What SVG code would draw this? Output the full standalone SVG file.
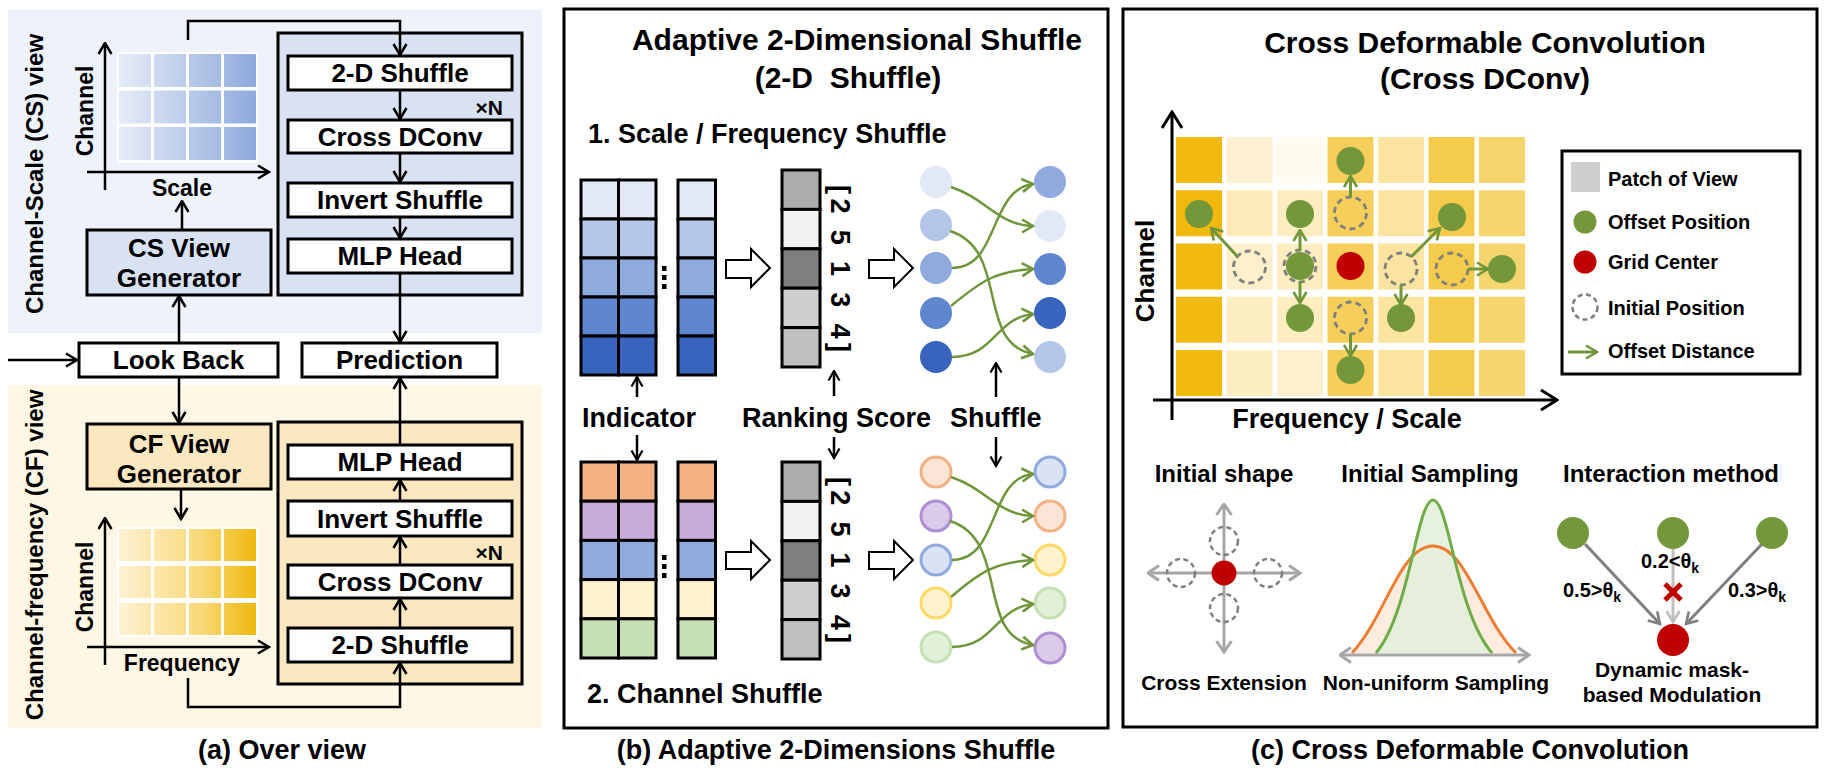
<svg xmlns="http://www.w3.org/2000/svg" width="1824" height="778" viewBox="0 0 1824 778">
<defs>
<style>
.t{font-family:"Liberation Sans",Arial,sans-serif;font-weight:700;fill:#000}
.c{text-anchor:middle}
.s26{font-size:26px}
.s27{font-size:27px}
.s30{font-size:30px}
.box{fill:#fff;stroke:#000;stroke-width:3}
.ln{fill:none;stroke:#000;stroke-width:2.5}
.gl{fill:none;stroke:#70963c;stroke-width:2.5}
.ga{fill:none;stroke:#70963c;stroke-width:3}
.cell{stroke:#000;stroke-width:3}
.dc{fill:none;stroke:#7f7f7f;stroke-width:2.8;stroke-dasharray:6 4}
.og{fill:#74973b}
.rd{fill:#c00000}
.hol{fill:#fff;stroke:#000;stroke-width:2}
</style>
<marker id="ma" viewBox="0 0 14 16" refX="12.5" refY="8" markerWidth="14" markerHeight="16" markerUnits="userSpaceOnUse" orient="auto"><path d="M1.5,1.5 L12.5,8 L1.5,14.5" fill="none" stroke="#000" stroke-width="2.5"/></marker>
<marker id="ms" viewBox="0 0 12 14" refX="10.5" refY="7" markerWidth="12" markerHeight="14" markerUnits="userSpaceOnUse" orient="auto"><path d="M1,1.5 L10.5,7 L1,12.5" fill="none" stroke="#000" stroke-width="2.2"/></marker>
<marker id="mx" viewBox="0 0 20 24" refX="18" refY="12" markerWidth="20" markerHeight="24" markerUnits="userSpaceOnUse" orient="auto"><path d="M2,2 L18,12 L2,22" fill="none" stroke="#000" stroke-width="3"/></marker>
<marker id="mg" viewBox="0 0 14 16" refX="12.5" refY="8" markerWidth="14" markerHeight="16" markerUnits="userSpaceOnUse" orient="auto"><path d="M1.5,1.5 L12.5,8 L1.5,14.5" fill="none" stroke="#70963c" stroke-width="2.6"/></marker>
<marker id="mgr" viewBox="0 0 14 18" refX="12.5" refY="9" markerWidth="14" markerHeight="18" markerUnits="userSpaceOnUse" orient="auto-start-reverse"><path d="M1.5,1.5 L12.5,9 L1.5,16.5" fill="none" stroke="#a6a6a6" stroke-width="3"/></marker>
<marker id="mdk" viewBox="0 0 14 16" refX="12.5" refY="8" markerWidth="14" markerHeight="16" markerUnits="userSpaceOnUse" orient="auto"><path d="M1.5,1.5 L12.5,8 L1.5,14.5" fill="none" stroke="#7f7f7f" stroke-width="2.6"/></marker>
<marker id="mlt" viewBox="0 0 14 16" refX="12.5" refY="8" markerWidth="14" markerHeight="16" markerUnits="userSpaceOnUse" orient="auto"><path d="M1.5,1.5 L12.5,8 L1.5,14.5" fill="none" stroke="#bfbfbf" stroke-width="2.6"/></marker>
<linearGradient id="gcs" gradientUnits="userSpaceOnUse" x1="119" y1="0" x2="256" y2="0"><stop offset="0" stop-color="#e6ecf7"/><stop offset="1" stop-color="#8eaadc"/></linearGradient>
<linearGradient id="gcf" gradientUnits="userSpaceOnUse" x1="119" y1="0" x2="256" y2="0"><stop offset="0" stop-color="#fef2d3"/><stop offset="0.6" stop-color="#f8d978"/><stop offset="1" stop-color="#efb80d"/></linearGradient>
</defs>
<rect width="1824" height="778" fill="#fff"/>

<!-- ================= Panel (a) ================= -->
<g id="panel-a">
<rect x="8" y="10" width="534" height="323" fill="#eef2fb"/>
<rect x="8" y="385" width="534" height="343" fill="#fef7e5"/>
<text class="t" font-size="24" text-anchor="middle" transform="translate(43,174) rotate(-90)">Channel-Scale (CS) view</text>
<text class="t" font-size="24" text-anchor="middle" transform="translate(43,555) rotate(-90)">Channel-frequency (CF) view</text>
<text class="t c s27" x="282" y="759">(a) Over view</text>
</g>

<g id="cs-grid">
<rect x="117" y="52" width="141" height="111" fill="#fff"/>
<g fill="url(#gcs)">
<rect x="119" y="54" width="32" height="33"/><rect x="154" y="54" width="32" height="33"/><rect x="189" y="54" width="32" height="33"/><rect x="224" y="54" width="32" height="33"/>
<rect x="119" y="90.5" width="32" height="33"/><rect x="154" y="90.5" width="32" height="33"/><rect x="189" y="90.5" width="32" height="33"/><rect x="224" y="90.5" width="32" height="33"/>
<rect x="119" y="127" width="32" height="33"/><rect x="154" y="127" width="32" height="33"/><rect x="189" y="127" width="32" height="33"/><rect x="224" y="127" width="32" height="33"/>
</g>
<path class="ln" d="M105,190 V43" marker-end="url(#ma)"/>
<path class="ln" d="M87,172 H269" marker-end="url(#ma)"/>
<text class="t" font-size="23" text-anchor="middle" transform="translate(93,111) rotate(-90)">Channel</text>
<text class="t c" font-size="23" x="182" y="196">Scale</text>
</g>

<g id="cf-grid">
<rect x="117" y="527" width="141" height="110" fill="#fff"/>
<g fill="url(#gcf)">
<rect x="119" y="529" width="32" height="32"/><rect x="154" y="529" width="32" height="32"/><rect x="189" y="529" width="32" height="32"/><rect x="224" y="529" width="32" height="32"/>
<rect x="119" y="566" width="32" height="32"/><rect x="154" y="566" width="32" height="32"/><rect x="189" y="566" width="32" height="32"/><rect x="224" y="566" width="32" height="32"/>
<rect x="119" y="603" width="32" height="32"/><rect x="154" y="603" width="32" height="32"/><rect x="189" y="603" width="32" height="32"/><rect x="224" y="603" width="32" height="32"/>
</g>
<path class="ln" d="M105,665 V518" marker-end="url(#ma)"/>
<path class="ln" d="M87,647 H269" marker-end="url(#ma)"/>
<text class="t" font-size="23" text-anchor="middle" transform="translate(93,587) rotate(-90)">Channel</text>
<text class="t c" font-size="23" x="182" y="671">Frequency</text>
</g>

<g id="cs-block">
<rect x="278" y="33" width="244" height="262" fill="#d9e2f3" stroke="#000" stroke-width="3"/>
<text class="t" font-size="21" text-anchor="end" x="503" y="115">×N</text>
</g>
<g id="cs-2dshuffle"><rect class="box" x="288" y="56" width="224" height="34"/><text class="t c s26" x="400" y="82">2-D Shuffle</text></g>
<g id="cs-crossdconv"><rect class="box" x="288" y="120" width="224" height="33"/><text class="t c s26" x="400" y="146">Cross DConv</text></g>
<g id="cs-invert"><rect class="box" x="288" y="183" width="224" height="34"/><text class="t c s26" x="400" y="209">Invert Shuffle</text></g>
<g id="cs-mlp"><rect class="box" x="288" y="239" width="224" height="34"/><text class="t c s26" x="400" y="265">MLP Head</text></g>

<g id="cf-block">
<rect x="278" y="422" width="244" height="262" fill="#fbe8c1" stroke="#000" stroke-width="3"/>
<text class="t" font-size="21" text-anchor="end" x="503" y="560">×N</text>
</g>
<g id="cf-mlp"><rect class="box" x="288" y="445" width="224" height="34"/><text class="t c s26" x="400" y="471">MLP Head</text></g>
<g id="cf-invert"><rect class="box" x="288" y="501" width="224" height="35"/><text class="t c s26" x="400" y="528">Invert Shuffle</text></g>
<g id="cf-crossdconv"><rect class="box" x="288" y="565" width="224" height="33"/><text class="t c s26" x="400" y="591">Cross DConv</text></g>
<g id="cf-2dshuffle"><rect class="box" x="288" y="628" width="224" height="34"/><text class="t c s26" x="400" y="654">2-D Shuffle</text></g>

<g id="cs-generator"><rect x="87" y="230" width="184" height="65" fill="#d9e2f3" stroke="#000" stroke-width="3"/><text class="t c s26" x="179" y="257">CS View</text><text class="t c s26" x="179" y="287">Generator</text></g>
<g id="cf-generator"><rect x="87" y="424" width="184" height="65" fill="#fbe8c1" stroke="#000" stroke-width="3"/><text class="t c s26" x="179" y="453">CF View</text><text class="t c s26" x="179" y="483">Generator</text></g>
<g id="look-back"><rect class="box" x="79" y="343" width="199" height="34"/><text class="t c s26" x="178.5" y="369">Look Back</text></g>
<g id="prediction"><rect class="box" x="302" y="343" width="195" height="34"/><text class="t c s26" x="399.5" y="369">Prediction</text></g>

<g id="connectors-a" class="ln">
<path d="M188,40 V21 H400 V55" marker-end="url(#ma)"/>
<path d="M400,90 V119" marker-end="url(#ma)"/>
<path d="M400,153 V182" marker-end="url(#ma)"/>
<path d="M400,217 V238" marker-end="url(#ma)"/>
<path d="M400,273 V342" marker-end="url(#ma)"/>
<path d="M8,360 H77" marker-end="url(#ma)"/>
<path d="M179,343 V296" marker-end="url(#ma)"/>
<path d="M182,230 V201" marker-end="url(#ma)"/>
<path d="M179,377 V423" marker-end="url(#ma)"/>
<path d="M181,489 V519" marker-end="url(#ma)"/>
<path d="M400,445 V378" marker-end="url(#ma)"/>
<path d="M400,501 V480" marker-end="url(#ma)"/>
<path d="M400,565 V537" marker-end="url(#ma)"/>
<path d="M400,628 V599" marker-end="url(#ma)"/>
<path d="M188,678 V707 H400 V663" marker-end="url(#ma)"/>
</g>

<!-- ================= Panel (b) ================= -->
<g id="panel-b">
<rect x="564" y="9" width="544" height="719" fill="none" stroke="#000" stroke-width="3"/>
<text class="t c s30" x="857" y="50">Adaptive 2-Dimensional Shuffle</text>
<text class="t c s30" x="848" y="88" style="white-space:pre">(2-D  Shuffle)</text>
<text class="t s27" x="588" y="143">1. Scale / Frequency Shuffle</text>
<text class="t s27" x="587" y="703">2. Channel Shuffle</text>
<text class="t c s27" x="836" y="759">(b) Adaptive 2-Dimensions Shuffle</text>
</g>

<g id="sf-indicator">
<g class="cell">
<rect x="581" y="180" width="37.5" height="39" fill="#e3e9f6"/><rect x="618.5" y="180" width="37.5" height="39" fill="#e3e9f6"/><rect x="678" y="180" width="37.5" height="39" fill="#e3e9f6"/>
<rect x="581" y="219" width="37.5" height="39" fill="#b4c6e7"/><rect x="618.5" y="219" width="37.5" height="39" fill="#b4c6e7"/><rect x="678" y="219" width="37.5" height="39" fill="#b4c6e7"/>
<rect x="581" y="258" width="37.5" height="39" fill="#8faadc"/><rect x="618.5" y="258" width="37.5" height="39" fill="#8faadc"/><rect x="678" y="258" width="37.5" height="39" fill="#8faadc"/>
<rect x="581" y="297" width="37.5" height="39" fill="#5e87cf"/><rect x="618.5" y="297" width="37.5" height="39" fill="#5e87cf"/><rect x="678" y="297" width="37.5" height="39" fill="#5e87cf"/>
<rect x="581" y="336" width="37.5" height="39" fill="#3864be"/><rect x="618.5" y="336" width="37.5" height="39" fill="#3864be"/><rect x="678" y="336" width="37.5" height="39" fill="#3864be"/>
</g>
<rect x="662" y="266" width="4.5" height="5"/><rect x="662" y="275" width="4.5" height="5"/><rect x="662" y="284" width="4.5" height="5"/>
</g>

<g id="ch-indicator">
<g class="cell">
<rect x="581" y="462" width="37.5" height="39.2" fill="#f4b183"/><rect x="618.5" y="462" width="37.5" height="39.2" fill="#f4b183"/><rect x="678" y="462" width="37.5" height="39.2" fill="#f4b183"/>
<rect x="581" y="501.2" width="37.5" height="39.2" fill="#c9abd8"/><rect x="618.5" y="501.2" width="37.5" height="39.2" fill="#c9abd8"/><rect x="678" y="501.2" width="37.5" height="39.2" fill="#c9abd8"/>
<rect x="581" y="540.4" width="37.5" height="39.2" fill="#8faadc"/><rect x="618.5" y="540.4" width="37.5" height="39.2" fill="#8faadc"/><rect x="678" y="540.4" width="37.5" height="39.2" fill="#8faadc"/>
<rect x="581" y="579.6" width="37.5" height="39.2" fill="#fff2cc"/><rect x="618.5" y="579.6" width="37.5" height="39.2" fill="#fff2cc"/><rect x="678" y="579.6" width="37.5" height="39.2" fill="#fff2cc"/>
<rect x="581" y="618.8" width="37.5" height="39.2" fill="#c6e0b4"/><rect x="618.5" y="618.8" width="37.5" height="39.2" fill="#c6e0b4"/><rect x="678" y="618.8" width="37.5" height="39.2" fill="#c6e0b4"/>
</g>
<rect x="662" y="555" width="4.5" height="5"/><rect x="662" y="564" width="4.5" height="5"/><rect x="662" y="573" width="4.5" height="5"/>
</g>

<g id="sf-score">
<g class="cell">
<rect x="782" y="170" width="38" height="39.4" fill="#aeabab"/>
<rect x="782" y="209.4" width="38" height="39.4" fill="#f2f2f2"/>
<rect x="782" y="248.8" width="38" height="39.4" fill="#7f7f7f"/>
<rect x="782" y="288.2" width="38" height="39.4" fill="#d0cece"/>
<rect x="782" y="327.6" width="38" height="39.4" fill="#bfbfbf"/>
</g>
<text class="t s27" transform="translate(831,185) rotate(90)" textLength="167" lengthAdjust="spacing">[2 5 1 3 4]</text>
</g>
<g id="ch-score">
<g class="cell">
<rect x="782" y="462" width="38" height="39.4" fill="#aeabab"/>
<rect x="782" y="501.4" width="38" height="39.4" fill="#f2f2f2"/>
<rect x="782" y="540.8" width="38" height="39.4" fill="#7f7f7f"/>
<rect x="782" y="580.2" width="38" height="39.4" fill="#d0cece"/>
<rect x="782" y="619.6" width="38" height="39.4" fill="#bfbfbf"/>
</g>
<text class="t s27" transform="translate(831,477) rotate(90)" textLength="166" lengthAdjust="spacing">[2 5 1 3 4]</text>
</g>

<g id="hollow-arrows">
<path class="hol" d="M726,260 H751 V249 L770,268 L751,287 V278 H726 Z"/>
<path class="hol" d="M869,260 H894 V249 L913,268 L894,287 V278 H869 Z"/>
<path class="hol" d="M726,552 H751 V541 L770,560 L751,579 V569 H726 Z"/>
<path class="hol" d="M869,552 H894 V541 L913,560 L894,579 V569 H869 Z"/>
</g>

<g id="sf-circles">
<circle cx="936" cy="182" r="16" fill="#e2e9f6"/>
<circle cx="936" cy="225" r="16" fill="#b4c6e7"/>
<circle cx="936" cy="268" r="16" fill="#8faadc"/>
<circle cx="936" cy="313" r="16" fill="#5e87cf"/>
<circle cx="936" cy="357" r="16" fill="#3864be"/>
<circle cx="1050" cy="182" r="16" fill="#8faadc"/>
<circle cx="1050" cy="226" r="16" fill="#e2e9f6"/>
<circle cx="1050" cy="269" r="16" fill="#5e87cf"/>
<circle cx="1050" cy="313" r="16" fill="#3864be"/>
<circle cx="1050" cy="357" r="16" fill="#b4c6e7"/>
</g>
<g id="ch-circles" stroke-width="3">
<circle cx="936" cy="472" r="15" fill="#fbe5d6" stroke="#f4b183"/>
<circle cx="936" cy="516" r="15" fill="#dccaea" stroke="#ae8fcf"/>
<circle cx="936" cy="560" r="15" fill="#dae3f3" stroke="#8faadc"/>
<circle cx="936" cy="603" r="15" fill="#fff2cc" stroke="#ffd966"/>
<circle cx="936" cy="647" r="15" fill="#e2f0d9" stroke="#c5e0b4"/>
<circle cx="1050" cy="472" r="15" fill="#dae3f3" stroke="#8faadc"/>
<circle cx="1050" cy="516" r="15" fill="#fbe5d6" stroke="#f4b183"/>
<circle cx="1050" cy="560" r="15" fill="#fff2cc" stroke="#ffd966"/>
<circle cx="1050" cy="603" r="15" fill="#e2f0d9" stroke="#c5e0b4"/>
<circle cx="1050" cy="648" r="15" fill="#dccaea" stroke="#ae8fcf"/>
</g>
<g id="labels-b">
<text class="t s27" x="582" y="427">Indicator</text>
<text class="t s27" x="742" y="427">Ranking Score</text>
<text class="t s27" x="950" y="427">Shuffle</text>
</g>

<g id="connectors-b">
<g class="ln" stroke-width="2.2">
<path d="M637,397 V377" marker-end="url(#ms)"/>
<path d="M637,435 V460" marker-end="url(#ms)"/>
<path d="M834,396 V371" marker-end="url(#ms)"/>
<path d="M834,437 V458" marker-end="url(#ms)"/>
<path d="M996,397 V363" marker-end="url(#ms)"/>
<path d="M996,437 V466" marker-end="url(#ms)"/>
</g>
<g class="gl">
<path d="M951,187 C985,198 1000,226 1033,226" marker-end="url(#mg)"/>
<path d="M950,231 C1010,250 975,343 1033,354" marker-end="url(#mg)"/>
<path d="M952,268 C1000,268 988,190 1033,184" marker-end="url(#mg)"/>
<path d="M951,306 C980,282 995,271 1033,269" marker-end="url(#mg)"/>
<path d="M952,357 C995,357 995,318 1033,314" marker-end="url(#mg)"/>
<path d="M951,477 C985,488 1000,516 1033,516" marker-end="url(#mg)"/>
<path d="M950,521 C1010,540 975,635 1033,645" marker-end="url(#mg)"/>
<path d="M952,560 C1000,560 988,478 1033,474" marker-end="url(#mg)"/>
<path d="M951,597 C980,572 995,562 1033,560" marker-end="url(#mg)"/>
<path d="M952,647 C995,647 995,608 1033,604" marker-end="url(#mg)"/>
</g>
</g>

<!-- ================= Panel (c) ================= -->
<g id="panel-c">
<rect x="1123" y="9" width="694" height="718" fill="none" stroke="#000" stroke-width="3"/>
<text class="t c s30" x="1485" y="53">Cross Deformable Convolution</text>
<text class="t c s30" x="1485" y="89">(Cross DConv)</text>
<text class="t c s27" x="1470" y="759">(c) Cross Deformable Convolution</text>
</g>

<g id="patch-grid">
<g fill="#f1b80e"><rect x="1176" y="137" width="46" height="46"/><rect x="1176" y="190.25" width="46" height="46"/><rect x="1176" y="243.5" width="46" height="46"/><rect x="1176" y="296.75" width="46" height="46"/><rect x="1176" y="350" width="46" height="46"/></g>
<rect x="1226.5" y="137" width="46" height="46" fill="#fdf0d0"/><rect x="1226.5" y="190.25" width="46" height="46" fill="#fcebb8"/><rect x="1226.5" y="243.5" width="46" height="46" fill="#fdefcb"/><rect x="1226.5" y="296.75" width="46" height="46" fill="#fdedc3"/><rect x="1226.5" y="350" width="46" height="46" fill="#fdedc3"/>
<rect x="1277" y="137" width="46" height="46" fill="#fffaee"/><rect x="1277" y="190.25" width="46" height="46" fill="#fdedc1"/><rect x="1277" y="243.5" width="46" height="46" fill="#fdedc1"/><rect x="1277" y="296.75" width="46" height="46" fill="#fdedc1"/><rect x="1277" y="350" width="46" height="46" fill="#fdf0cf"/>
<g fill="#f6cf5a"><rect x="1327.5" y="137" width="46" height="46"/><rect x="1327.5" y="190.25" width="46" height="46"/><rect x="1327.5" y="243.5" width="46" height="46"/><rect x="1327.5" y="296.75" width="46" height="46"/><rect x="1327.5" y="350" width="46" height="46"/></g>
<g fill="#fae4a0"><rect x="1378" y="137" width="46" height="46"/><rect x="1378" y="190.25" width="46" height="46"/><rect x="1378" y="243.5" width="46" height="46"/><rect x="1378" y="296.75" width="46" height="46"/><rect x="1378" y="350" width="46" height="46"/></g>
<g fill="#f5cb4b"><rect x="1428.5" y="137" width="46" height="46"/><rect x="1428.5" y="190.25" width="46" height="46"/><rect x="1428.5" y="243.5" width="46" height="46"/><rect x="1428.5" y="296.75" width="46" height="46"/><rect x="1428.5" y="350" width="46" height="46"/></g>
<g fill="#f7d56e"><rect x="1479" y="137" width="46" height="46"/><rect x="1479" y="190.25" width="46" height="46"/><rect x="1479" y="243.5" width="46" height="46"/><rect x="1479" y="296.75" width="46" height="46"/><rect x="1479" y="350" width="46" height="46"/></g>
</g>

<g id="grid-axes">
<path d="M1172,420 V112" fill="none" stroke="#000" stroke-width="3" marker-end="url(#mx)"/>
<path d="M1153,400 H1557" fill="none" stroke="#000" stroke-width="3" marker-end="url(#mx)"/>
<text class="t" font-size="26" text-anchor="middle" transform="translate(1154,271) rotate(-90)">Channel</text>
<text class="t c s27" x="1347" y="428">Frequency / Scale</text>
</g>

<g id="sampling-points">
<circle class="dc" cx="1249.5" cy="267" r="16"/>
<circle class="og" cx="1199" cy="214" r="14"/>
<circle class="og" cx="1300" cy="214" r="14"/>
<circle class="og" cx="1300" cy="266" r="14"/>
<circle class="dc" cx="1300" cy="266" r="16"/>
<circle class="og" cx="1300" cy="318" r="14"/>
<circle class="og" cx="1350.5" cy="161" r="14"/>
<circle class="dc" cx="1350.5" cy="213" r="16"/>
<circle class="rd" cx="1350.5" cy="266" r="14"/>
<circle class="dc" cx="1350.5" cy="318" r="16"/>
<circle class="og" cx="1350.5" cy="370" r="14"/>
<circle class="dc" cx="1401" cy="269" r="16"/>
<circle class="og" cx="1401" cy="318" r="14"/>
<circle class="og" cx="1452" cy="217" r="14"/>
<circle class="dc" cx="1452" cy="269" r="16"/>
<circle class="og" cx="1502" cy="269" r="14"/>
</g>
<g id="offset-arrows" class="ga">
<path d="M1238,257 L1211,228" marker-end="url(#mg)"/>
<path d="M1300,251 V230" marker-end="url(#mg)"/>
<path d="M1300,281 V303" marker-end="url(#mg)"/>
<path d="M1350.5,197 V176" marker-end="url(#mg)"/>
<path d="M1350.5,334 V356" marker-end="url(#mg)"/>
<path d="M1401,285 V305" marker-end="url(#mg)"/>
<path d="M1411,257 L1440,228" marker-end="url(#mg)"/>
<path d="M1468,269 H1488" marker-end="url(#mg)"/>
</g>

<g id="legend">
<rect x="1562" y="151" width="238" height="223" fill="#fff" stroke="#000" stroke-width="3"/>
<rect x="1571" y="162" width="29" height="30" fill="#d0cece"/>
<circle class="og" cx="1585" cy="222" r="11.5"/>
<circle class="rd" cx="1585" cy="262" r="11.5"/>
<circle cx="1585" cy="307" r="12.5" fill="none" stroke="#7f7f7f" stroke-width="2.5" stroke-dasharray="5 3.5"/>
<path class="ga" d="M1568,352 H1597" marker-end="url(#mg)"/>
<text class="t" font-size="20" x="1608" y="186">Patch of View</text>
<text class="t" font-size="20" x="1608" y="229">Offset Position</text>
<text class="t" font-size="20" x="1608" y="269">Grid Center</text>
<text class="t" font-size="20" x="1608" y="315">Initial Position</text>
<text class="t" font-size="20" x="1608" y="358">Offset Distance</text>
</g>

<g id="initial-shape">
<text class="t c" font-size="24" x="1224" y="482">Initial shape</text>
<g fill="none" stroke="#a6a6a6" stroke-width="3">
<path d="M1224,573 H1148" marker-end="url(#mgr)"/>
<path d="M1224,573 H1300" marker-end="url(#mgr)"/>
<path d="M1224,573 V504" marker-end="url(#mgr)"/>
<path d="M1224,573 V652" marker-end="url(#mgr)"/>
</g>
<g fill="none" stroke="#7f7f7f" stroke-width="2.5" stroke-dasharray="5 3.5">
<circle cx="1224" cy="541" r="14"/>
<circle cx="1224" cy="608" r="14"/>
<circle cx="1181" cy="573" r="14"/>
<circle cx="1268" cy="573" r="14"/>
</g>
<circle class="rd" cx="1224" cy="573" r="12.5"/>
<text class="t c" font-size="21" x="1224" y="690">Cross Extension</text>
</g>

<g id="initial-sampling">
<text class="t c" font-size="24" x="1430" y="482">Initial Sampling</text>
<path d="M1352,653 C1385,618 1400,546 1433,546 C1466,546 1481,618 1516,653 Z" fill="#fbe5d6" fill-opacity="0.75"/>
<path d="M1376,653 C1410,612 1417,500 1433,500 C1449,500 1456,612 1492,653 Z" fill="#e2efda" fill-opacity="0.85"/>
<path d="M1352,653 C1385,618 1400,546 1433,546 C1466,546 1481,618 1516,653" fill="none" stroke="#ed7d31" stroke-width="3"/>
<path d="M1376,653 C1410,612 1417,500 1433,500 C1449,500 1456,612 1492,653" fill="none" stroke="#70ad47" stroke-width="3"/>
<path d="M1340,655 H1529" fill="none" stroke="#a6a6a6" stroke-width="3" marker-start="url(#mgr)" marker-end="url(#mgr)"/>
<text class="t c" font-size="21" x="1436" y="690">Non-uniform Sampling</text>
</g>

<g id="interaction">
<text class="t c" font-size="24" x="1671" y="482">Interaction method</text>
<path d="M1585,544 L1660,624" fill="none" stroke="#7f7f7f" stroke-width="3" marker-end="url(#mdk)"/>
<path d="M1762,544 L1686,624" fill="none" stroke="#7f7f7f" stroke-width="3" marker-end="url(#mdk)"/>
<path d="M1673,549 V622" fill="none" stroke="#bfbfbf" stroke-width="3" marker-end="url(#mlt)"/>
<circle class="og" cx="1573" cy="533" r="16"/>
<circle class="og" cx="1673" cy="533" r="16"/>
<circle class="og" cx="1772" cy="533" r="16"/>
<circle class="rd" cx="1673" cy="640" r="16"/>
<path d="M1665,584 L1681,600 M1681,584 L1665,600" stroke="#c00000" stroke-width="5" fill="none"/>
<text class="t" font-size="20" x="1641" y="568">0.2&lt;θ<tspan font-size="14" dy="5">k</tspan></text>
<text class="t" font-size="20" x="1563" y="597">0.5&gt;θ<tspan font-size="14" dy="5">k</tspan></text>
<text class="t" font-size="20" x="1728" y="597">0.3&gt;θ<tspan font-size="14" dy="5">k</tspan></text>
<text class="t c" font-size="21" x="1672" y="677">Dynamic mask-</text>
<text class="t c" font-size="21" x="1672" y="702">based Modulation</text>
</g>
</svg>
